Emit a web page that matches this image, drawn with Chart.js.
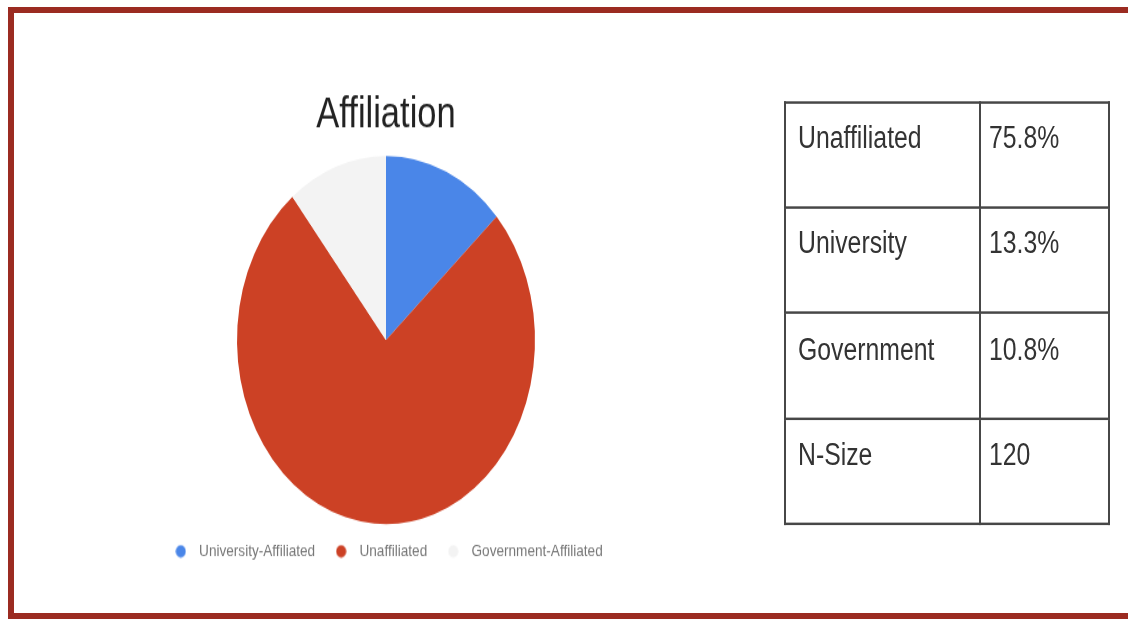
<!DOCTYPE html>
<html>
<head>
<meta charset="utf-8">
<script src="https://cdn.jsdelivr.net/npm/chart.js@4/dist/chart.umd.min.js"></script>
<style>
  html, body { margin: 0; padding: 0; background: #fff; }
  body { width: 1128px; height: 619px; position: relative; overflow: hidden; }
  .frame {
    position: absolute; left: 8px; top: 7px; width: 1200px; height: 600px;
    border: 6px solid #9b2b21; box-sizing: content-box;
  }
  .stage {
    position: absolute; left: 0; top: 0; width: 1128px; height: 501px;
    transform: scaleY(1.2355); transform-origin: 0 0;
  }
  #pie { position: absolute; left: 0; top: 0; }
  table.summary {
    position: absolute; left: 784px; top: 81.5px;
    border-collapse: collapse;
    font-family: "Liberation Sans", Arial, sans-serif;
    font-size: 24.8px; color: #333;
  }
  table.summary td {
    border: 2px solid #474747; height: 85.4px; box-sizing: border-box;
    vertical-align: top; padding: 14.5px 0 0 0;
  }
  table.summary td.k { width: 195px; padding-left: 12px; }
  table.summary td.v { width: 129px; padding-left: 8px; }
</style>
</head>
<body>
<div class="frame"></div>
<div class="stage">
  <canvas id="pie" width="772" height="501"></canvas>
  <table class="summary" id="summary"></table>
</div>
<script>
// Affiliation breakdown (percent of respondents)
const categories = ['University-Affiliated', 'Unaffiliated', 'Government-Affiliated'];
const shares = [13.3, 75.8, 10.8];
const sampleSize = 120;

// Summary table: row names and which share each row reports
const tableLabels = ['Unaffiliated', 'University', 'Government'];
const tableShareIndex = [1, 0, 2];

const sliceColors = ['#4a86e8', '#cc4125', '#f3f3f3'];

// Build the summary table from the same shares the pie uses
const tbl = document.getElementById('summary');
tableLabels.forEach((name, i) => {
  const tr = document.createElement('tr');
  tr.innerHTML = '<td class="k"></td><td class="v"></td>';
  tr.children[0].textContent = name;
  tr.children[1].textContent = shares[tableShareIndex[i]].toFixed(1) + '%';
  tbl.appendChild(tr);
});
const nRow = document.createElement('tr');
nRow.innerHTML = '<td class="k">N-Size</td><td class="v"></td>';
nRow.children[1].textContent = String(sampleSize);
tbl.appendChild(nRow);

// Small round swatches for the legend
function dot(color) {
  const c = document.createElement('canvas');
  c.width = 11; c.height = 11;
  const g = c.getContext('2d');
  g.fillStyle = color;
  g.beginPath();
  g.arc(5.5, 5.5, 5, 0, Math.PI * 2);
  g.fill();
  return c;
}
const dots = sliceColors.map(dot);

const fontFamily = '"Liberation Sans", Arial, sans-serif';

new Chart(document.getElementById('pie'), {
  type: 'pie',
  data: {
    labels: categories,
    datasets: [{
      data: shares,
      backgroundColor: sliceColors,
      borderWidth: 0,
      radius: 149
    }]
  },
  options: {
    responsive: false,
    maintainAspectRatio: false,
    animation: false,
    events: [],
    layout: { padding: { top: 73, bottom: 38, left: 0, right: 0 } },
    plugins: {
      title: {
        display: true,
        text: 'Affiliation',
        color: '#222',
        font: { family: fontFamily, size: 34.5, weight: 'normal' },
        padding: { top: 0, bottom: 11 }
      },
      legend: {
        position: 'bottom',
        labels: {
          usePointStyle: true,
          pointStyleWidth: 23,
          boxHeight: 10,
          padding: 14.5,
          color: '#777',
          font: { family: fontFamily, size: 13.6 },
          generateLabels(chart) {
            const items = Chart.overrides.pie.plugins.legend.labels.generateLabels(chart);
            items.forEach((it, i) => { it.pointStyle = dots[i]; });
            return items;
          }
        }
      },
      tooltip: { enabled: false }
    }
  }
});
</script>
</body>
</html>
